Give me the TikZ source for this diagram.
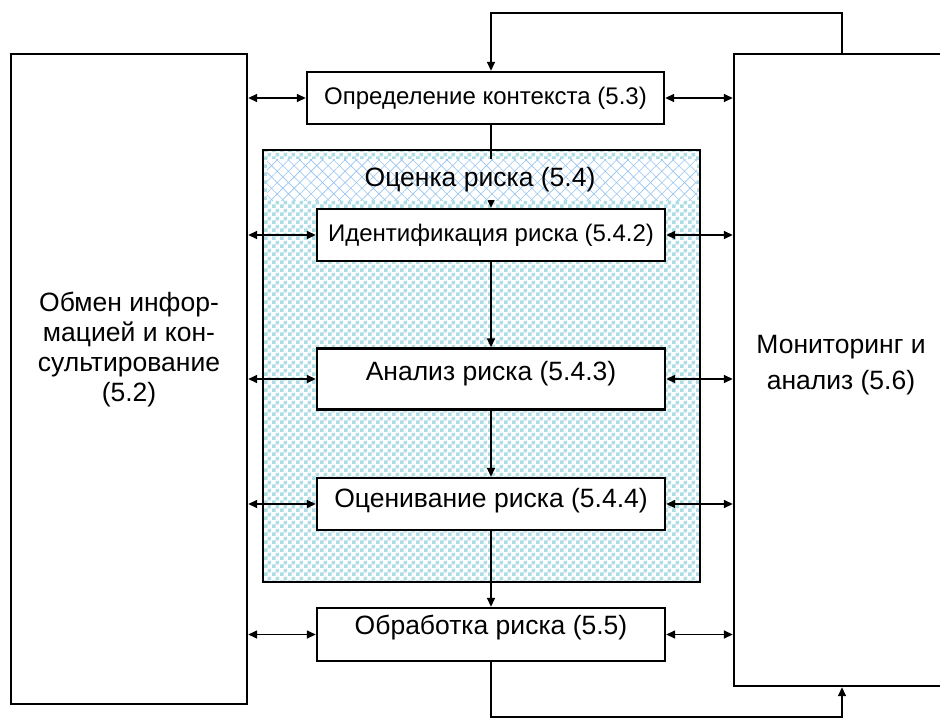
\documentclass[tikz,border=0pt]{standalone}
\usepackage{fontspec}
\setmainfont{Liberation Sans}
\usetikzlibrary{arrows.meta,patterns,patterns.meta}
\definecolor{chk}{RGB}{172,220,228}
\definecolor{xh}{RGB}{150,195,240}
\pgfdeclarepatternformonly{mychk}{\pgfpointorigin}{\pgfqpoint{8pt}{8pt}}{\pgfqpoint{8pt}{8pt}}{%
  \pgfpathrectangle{\pgfpointorigin}{\pgfqpoint{4pt}{4pt}}%
  \pgfpathrectangle{\pgfqpoint{4pt}{4pt}}{\pgfqpoint{4pt}{4pt}}%
  \pgfusepath{fill}}
\begin{document}
\begin{tikzpicture}[x=1pt,y=-1pt,
  box/.style={draw=black,line width=2.4pt,fill=white,inner sep=0pt,font=\fontsize{26.5}{30}\selectfont},
  smallbox/.style={box,font=\fontsize{24}{28}\selectfont},
  conn/.style={line width=1.5pt},
  tip/.style={-{Triangle[length=9pt,width=8pt]}},
  dbl/.style={{Triangle[length=9pt,width=8pt]}-{Triangle[length=9pt,width=8pt]}},
  lbl/.style={align=center,inner sep=0pt,font=\fontsize{26.5}{30}\selectfont}
]
\useasboundingbox (0,0) rectangle (940,720);
\clip (0,0) rectangle (940,720);
% side boxes
\node[box,minimum width=236pt,minimum height=650pt] (left) at (129,379) {};
\node[lbl] (leftT) at (129,350) {Обмен инфор-\\мацией и кон-\\сультирование\\(5.2)};
\node[box,minimum width=216pt,minimum height=632pt] (right) at (842,370) {};
\node[lbl,font=\fontsize{26.5}{36}\selectfont] (rightT) at (841,365) {Мониторинг и\\анализ (5.6)};
% assessment area
\node[draw=black,line width=2.4pt,pattern=mychk,pattern color=chk,minimum width=437pt,minimum height=432pt] (assess) at (481.5,366) {};
% boxes
\node[smallbox,minimum width=357pt,minimum height=52pt] (top) at (485.5,98) {Определение контекста (5.3)};
\node[smallbox,minimum width=348pt,minimum height=52pt] (ident) at (491,235) {Идентификация риска (5.4.2)};
\node[box,minimum width=348pt,minimum height=61pt,text depth=16pt] (anal) at (491,379) {Анализ риска (5.4.3)};
\node[box,minimum width=348pt,minimum height=52pt,text depth=12.5pt] (eval) at (491,504) {Оценивание риска (5.4.4)};
\node[box,minimum width=348pt,minimum height=53pt,text depth=19pt] (treat) at (491,634.5) {Обработка риска (5.5)};
% top connector into identification (under band)
\draw[conn,tip] (top.south -| ident.north) -- (ident.north);
% band
\fill[white] (267,159) rectangle (697,200);
\fill[pattern={Lines[angle=45,distance=8pt,line width=0.6pt]},pattern color=xh] (267,159) rectangle (697,200);
\fill[pattern={Lines[angle=-45,distance=8pt,line width=0.6pt]},pattern color=xh] (267,159) rectangle (697,200);
\node[lbl] (assessT) at (480,180) {Оценка риска (5.4)};
% vertical flow
\draw[conn,tip] (ident.south) -- (anal.north);
\draw[conn,tip] (anal.south) -- (eval.north);
\draw[conn,tip] (eval.south) -- (treat.north);
% horizontal double arrows
\foreach \n in {top,ident,anal,eval,treat}{
  \draw[conn,dbl] (left.east |- \n.west) -- (\n.west);
  \draw[conn,dbl] (\n.east) -- (\n.east -| right.west);
}
% feedback loops
\coordinate (fa) at (842,13);
\coordinate (fb) at (842,717);
\draw[conn,tip] (right.north) -- (fa) -- (fa -| ident.north) -- (top.north -| ident.north);
\draw[conn,tip] (treat.south) -- (treat.south |- fb) -- (fb) -- (right.south);
\end{tikzpicture}
\end{document}
